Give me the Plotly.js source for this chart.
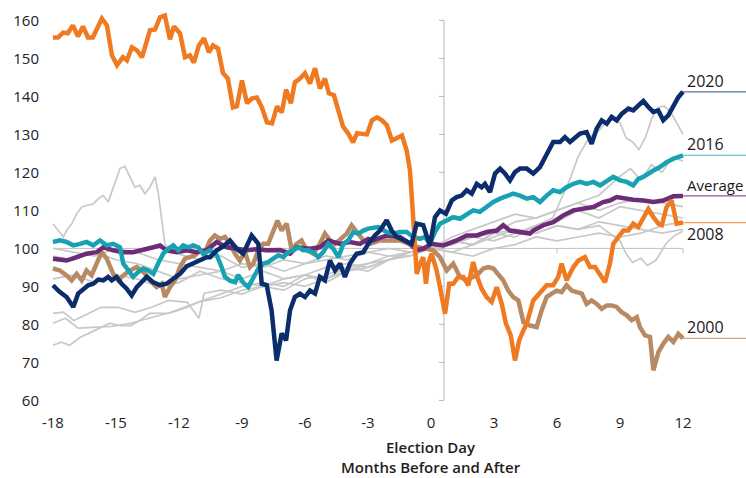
<!DOCTYPE html>
<html><head><meta charset="utf-8">
<script src="https://cdn.plot.ly/plotly-3.0.1.min.js"></script>
<style>html,body{margin:0;padding:0;background:#fff}#chart{width:746px;height:478px}</style>
</head><body><div id="chart"></div>
<script>
// ---- tick labels ----
const xTickVals = [-18,-15,-12,-9,-6,-3,0,3,6,9,12];
const xTickText = ['-18','-15','-12','-9','-6','-3','0','3','6','9','12'];
const yTickVals = [60,70,80,90,100,110,120,130,140,150,160];

// ---- highlighted series (months vs election day, index = 100 on election day) ----
const y2008_x = [-18.0,-17.76,-17.52,-17.29,-17.05,-16.81,-16.57,-16.33,-16.1,-15.67,-15.43,-15.19,-14.95,-14.67,-14.48,-14.24,-14.0,-13.76,-13.38,-13.14,-12.9,-12.67,-12.43,-12.24,-11.95,-11.71,-11.48,-11.29,-11.05,-10.81,-10.57,-10.38,-10.14,-9.9,-9.67,-9.43,-9.24,-9.0,-8.76,-8.52,-8.29,-8.05,-7.81,-7.57,-7.33,-7.1,-6.9,-6.67,-6.48,-6.24,-6.0,-5.76,-5.52,-5.29,-5.05,-4.86,-4.62,-4.43,-4.19,-3.95,-3.71,-3.52,-3.24,-3.05,-2.81,-2.57,-2.33,-2.1,-1.86,-1.62,-1.38,-1.16,-1.0,-0.87,-0.76,-0.68,-0.52,-0.37,-0.24,-0.13,0.03,0.27,0.43,0.67,0.87,1.06,1.3,1.54,1.78,2.01,2.2,2.41,2.65,2.89,3.13,3.37,3.57,3.8,4.0,4.2,4.4,4.56,4.87,5.19,5.51,5.82,6.06,6.22,6.46,6.78,7.02,7.33,7.57,7.81,8.05,8.29,8.52,8.68,8.92,9.16,9.4,9.63,9.87,10.11,10.35,10.59,10.83,10.99,11.22,11.46,11.7,12.0];
const y2008_v = [155.5,155.5,156.8,156.6,158.7,155.8,158.4,155.5,155.5,160.5,158.7,150.8,148.2,150.3,149.5,152.9,152.1,150.3,157.4,157.6,160.8,161.3,155.0,158.4,156.6,150.3,150.8,148.9,153.4,155.3,151.6,153.4,152.6,146.1,144.7,137.1,137.4,144.2,138.2,139.5,139.7,137.1,133.2,132.9,137.4,135.8,141.8,138.2,143.7,144.7,146.1,143.4,147.4,142.1,144.7,140.8,140.3,136.3,132.1,130.3,127.9,130.3,130.0,130.0,133.7,134.5,133.7,132.4,128.4,129.2,129.7,125.8,120.5,110.0,99.5,93.3,96.0,97.7,90.7,96.0,98.6,94.2,89.8,82.8,90.7,90.7,92.5,92.5,90.3,96.4,92.5,89.4,87.2,85.9,89.8,85.4,80.2,77.1,70.5,75.8,78.4,80.2,86.3,88.5,90.3,90.3,92.5,96.0,91.6,95.1,96.8,97.7,95.1,95.1,93.3,91.1,96.0,101.2,103.0,104.7,104.7,106.5,105.6,108.2,110.4,108.2,106.5,106.1,110.9,112.6,106.5,106.8];

const y2020_x = [-18.0,-17.67,-17.35,-17.03,-16.8,-16.56,-16.32,-16.08,-15.84,-15.6,-15.37,-15.2,-14.97,-14.73,-14.49,-14.25,-14.01,-13.78,-13.54,-13.22,-12.9,-12.59,-12.27,-11.95,-11.63,-11.32,-11.0,-10.68,-10.52,-10.2,-9.89,-9.57,-9.25,-8.94,-8.54,-8.22,-8.06,-7.82,-7.59,-7.35,-7.11,-6.9,-6.71,-6.48,-6.24,-6.0,-5.76,-5.52,-5.29,-5.05,-4.81,-4.57,-4.33,-4.1,-3.86,-3.54,-3.22,-2.99,-2.67,-2.43,-2.11,-1.87,-1.63,-1.4,-1.16,-0.92,-0.68,-0.37,-0.13,-0.05,0.19,0.43,0.71,0.99,1.22,1.46,1.7,1.94,2.18,2.41,2.57,2.81,3.05,3.29,3.52,3.76,4.0,4.24,4.56,4.87,5.19,5.51,5.82,6.14,6.38,6.62,6.86,7.1,7.41,7.65,7.89,8.13,8.37,8.6,8.84,9.08,9.4,9.63,9.87,10.11,10.35,10.59,10.82,11.06,11.3,11.54,11.78,12.0];
const y2020_v = [90.3,88.5,87.2,84.6,88.1,89.4,90.3,90.7,91.8,91.6,92.5,91.6,92.5,90.7,89.4,87.6,89.8,91.1,92.5,91.1,90.3,90.7,92.0,93.3,95.3,96.0,96.8,97.7,97.7,99.5,100.5,102.1,99.9,98.6,103.4,101.2,90.7,90.3,83.7,70.5,77.6,75.8,83.7,87.2,88.1,87.2,88.9,88.1,92.5,91.6,96.8,94.2,96.0,92.5,96.0,98.6,99.0,101.2,103.4,104.7,107.4,104.7,103.0,102.5,101.7,101.2,106.5,106.1,102.1,100.8,108.2,110.0,109.1,112.6,113.5,113.9,115.3,114.4,117.0,116.1,117.0,114.8,119.7,121.0,119.7,117.9,120.1,121.0,121.0,119.7,121.4,124.9,128.0,128.0,129.3,128.0,129.3,130.2,130.6,127.5,131.5,133.7,132.8,134.6,133.7,135.4,136.8,136.3,137.6,138.8,137.2,135.9,136.3,133.7,135.0,137.6,139.8,141.2];

const y2016_x = [-18.0,-17.67,-17.35,-17.03,-16.71,-16.4,-16.08,-15.76,-15.44,-15.13,-14.81,-14.65,-14.41,-14.18,-13.94,-13.7,-13.46,-13.22,-12.99,-12.75,-12.51,-12.27,-12.03,-11.8,-11.56,-11.32,-11.08,-10.84,-10.52,-10.2,-9.97,-9.81,-9.57,-9.33,-9.18,-8.94,-8.7,-8.46,-8.22,-7.99,-7.75,-7.51,-7.27,-7.03,-6.8,-6.56,-6.32,-6.08,-5.84,-5.6,-5.37,-5.13,-4.89,-4.65,-4.41,-4.17,-3.94,-3.7,-3.46,-3.22,-2.99,-2.51,-2.11,-1.8,-1.48,-1.16,-0.84,-0.52,-0.29,-0.05,0.19,0.43,0.75,1.06,1.38,1.7,2.01,2.33,2.65,2.97,3.29,3.6,3.92,4.24,4.56,4.87,5.19,5.51,5.82,6.14,6.46,6.78,7.1,7.41,7.73,8.05,8.37,8.68,9.0,9.32,9.63,9.87,10.11,10.35,10.59,10.9,11.22,11.54,12.0];
const y2016_v = [101.7,102.1,101.7,100.8,101.2,101.7,100.8,102.1,100.8,101.2,100.3,96.0,94.2,92.5,93.8,94.7,94.2,93.3,96.0,98.6,99.9,100.8,99.5,100.8,100.3,100.8,100.3,98.5,99.5,98.2,95.1,92.5,91.5,91.1,93.0,91.0,89.8,92.5,94.7,96.0,96.4,97.3,98.2,97.7,99.0,99.5,100.3,99.5,99.5,99.0,97.7,99.0,101.2,99.9,97.7,101.2,102.1,104.3,103.9,104.7,105.2,105.6,104.3,103.9,104.3,104.3,103.0,102.5,103.0,101.2,104.3,106.5,107.4,108.2,107.8,109.1,110.0,109.6,110.9,112.2,113.1,113.9,114.4,113.9,113.1,113.5,112.2,113.9,115.3,114.8,116.1,117.0,117.5,117.0,117.5,116.6,117.9,118.8,117.9,117.5,116.6,118.3,118.8,119.7,120.5,121.4,122.7,123.6,124.5];

const avg_x = [-18.0,-17.35,-16.87,-16.4,-15.92,-15.6,-15.13,-14.65,-14.18,-13.7,-13.22,-12.9,-12.59,-12.11,-11.63,-11.16,-10.68,-10.2,-9.73,-9.25,-8.78,-8.3,-7.82,-7.19,-6.71,-6.4,-5.76,-5.29,-4.89,-4.33,-3.86,-3.38,-2.99,-2.75,-2.11,-1.48,-1.0,-0.68,-0.37,0.03,0.59,1.22,1.7,2.18,2.65,3.13,3.44,3.76,4.24,4.71,4.87,5.35,5.82,6.3,6.78,7.25,7.73,8.2,8.52,8.84,9.16,9.63,10.11,10.59,11.06,11.54,12.0];
const avg_v = [97.3,96.8,97.7,98.6,99.0,100.3,99.5,99.0,99.0,99.5,100.3,100.8,99.5,99.0,99.5,99.0,99.5,101.7,100.3,99.9,99.5,99.8,99.5,99.6,98.6,100.3,99.9,100.3,102.1,101.2,101.7,101.2,102.5,102.1,103.4,103.0,101.2,99.5,99.9,101.2,100.8,102.1,103.4,103.4,104.3,104.7,106.1,104.7,104.3,103.9,104.7,106.1,106.9,108.7,110.0,110.4,110.9,112.2,112.6,113.5,113.1,112.8,112.6,112.2,112.6,113.7,113.8];

const y2000_x = [-18.0,-17.67,-17.35,-17.11,-16.87,-16.63,-16.4,-16.16,-15.92,-15.68,-15.44,-15.13,-14.89,-14.65,-14.33,-14.01,-13.78,-13.54,-13.3,-13.06,-12.82,-12.67,-12.43,-12.19,-11.95,-11.71,-11.48,-11.24,-11.0,-10.76,-10.52,-10.29,-10.05,-9.81,-9.57,-9.33,-9.1,-8.86,-8.62,-8.46,-8.22,-7.99,-7.75,-7.51,-7.31,-7.11,-6.87,-6.63,-6.4,-6.16,-5.92,-5.6,-5.29,-5.05,-4.81,-4.57,-4.33,-4.01,-3.78,-3.54,-3.22,-2.9,-2.43,-1.48,-1.0,-0.6,-0.2,0.11,0.43,0.75,1.06,1.38,1.7,2.01,2.25,2.49,2.73,2.97,3.2,3.44,3.68,3.92,4.16,4.4,4.71,5.03,5.27,5.51,5.75,5.99,6.22,6.46,6.7,6.94,7.18,7.41,7.65,7.89,8.13,8.37,8.6,8.84,9.08,9.32,9.56,9.8,9.95,10.19,10.43,10.59,10.83,11.06,11.3,11.54,11.78,12.0];
const y2000_v = [94.7,94.2,92.9,91.6,93.3,91.6,94.2,92.9,96.0,99.0,97.3,93.3,91.6,92.9,94.2,95.1,94.2,92.9,91.1,89.8,90.7,87.2,89.8,91.6,95.1,97.3,97.7,98.2,99.5,99.0,102.1,103.4,102.5,103.0,101.2,98.6,96.8,99.0,95.1,96.0,99.5,101.2,101.2,104.7,107.3,104.7,106.5,99.5,101.2,102.1,99.5,98.6,101.2,103.9,102.1,101.2,102.5,103.9,106.1,104.3,102.1,101.2,102.1,102.1,101.2,100.3,99.9,99.5,97.7,94.2,96.0,92.5,91.6,92.5,93.3,94.7,95.1,94.7,93.3,91.6,88.9,87.2,86.3,80.6,79.7,79.3,83.7,87.2,88.1,88.9,88.5,90.3,88.9,88.5,88.1,85.4,86.3,85.4,84.1,85.0,85.0,84.6,83.2,82.4,81.1,81.9,79.3,77.1,76.7,67.9,72.7,74.9,76.7,75.4,77.5,76.3];

// ---- other election cycles (grey) ----
const grayA_x = [-18,-17.5,-17.35,-17.1,-16.87,-16.63,-16.4,-16.08,-15.84,-15.6,-15.37,-15.13,-14.81,-14.57,-14.33,-14.1,-13.86,-13.62,-13.38,-13.14,-12.98,-12.82,-12.67,-12.43,-12,-11,-10,-9,-8,-7,-6,-5,-4,-3,-2,-1,0,1,2,3,4,5,6,7,8,9,9.5,10,10.5,11,11.5,12];
const grayA_v = [106.5,103,104.7,106.5,109.1,110.9,111.3,111.7,113.1,113.9,112.2,116.1,121,121.6,118.8,116.1,116.6,114.4,116.1,118.8,114.4,108.2,101.2,99.5,98.5,97,98,95,96,94,96,97,98,99,98,99,100,101,103,104,107,108,110,112,114,119,121,118,122,120,124,123];
const grayB_x = [-18,-17,-16,-15,-14,-13,-12,-11,-10,-9,-8,-7,-6,-5,-4,-3,-2,-1,0,1,2,3,4,5,5.8,6.2,6.6,7,7.4,7.7,8,8.3,8.7,9,9.3,9.6,9.9,10.2,10.5,10.8,11.1,11.4,11.7,12];
const grayB_v = [98,97,99,97,96,94,92,93,94,92,94,92,93,95,96,95,97,99,100,101,103,102,104,106,108,113,118,124,128,130,131,133,134,133,129,128,126,129,134,137,137.5,136,133,130];
const grayC_x = [-18,-17,-16,-15,-14,-13,-12,-11,-10,-9,-8,-7,-6,-5,-4,-3,-2,-1,0,1,2,3,4,5,6,7,8,9,10,11,12];
const grayC_v = [92,93,91,93,92,90,91,94,92,91,90,92,93,91,94,96,98,98,100,99,101,104,103,106,107,110,108,111,110,109,108];
const grayD_x = [-18,-17.5,-17,-16.3,-15.7,-14.9,-14.1,-13.3,-12.5,-11.6,-11.05,-10.8,-10,-9,-8,-7,-6,-5,-4,-3,-2,-1,0,1,2,3,4,5,6,7,8,9,10,11,12];
const grayD_v = [82.9,83.2,81,82.9,84.5,84.5,83.2,84.5,86.3,85.8,81.6,88.2,89,88,90,91,90,92,94,95,97,99,100,103,105,107,109,108,110,112,110,112,113,112,111];
const grayE_x = [-18,-17.4,-16.8,-15.8,-15.2,-14.3,-13.5,-12.9,-12.3,-11.6,-11,-10,-9,-8,-7,-6,-5,-4,-3,-2,-1,0,1,2,3,4,5,6,7,8,9,10,11,12];
const grayE_v = [80.3,81.6,79,79.2,79.5,80.3,81.6,82.4,83.2,84.5,86,87,89,90,89,92,93,95,94,97,99,100,102,101,103,105,104,106,105,107,106,105,104,105];
const grayF_x = [-18,-17.6,-17.2,-16.7,-16.2,-15.8,-15.3,-14.8,-14.3,-13.85,-13.4,-12.5,-12,-11,-10,-9,-8,-7,-6,-5,-4,-3,-2,-1,0,1,2,3,4,5,6,7,8,9,10,11,12];
const grayF_v = [74.5,75.3,74.5,76.6,77.9,78.9,80.3,79.7,79.7,81.1,82.9,83,84,86,88,90,91,90,93,92,95,96,97,98,100,99,98,100,101,103,102,103,104,103,104,106,107];
const grayG_x = [-18,-17,-16,-15,-14,-13,-12,-11,-10,-9,-8,-7,-6,-5,-4,-3,-2,-1,0,1,2,3,4,5,6,7,8,9,9.3,9.6,10,10.3,10.7,11.2,11.6,12];
const grayG_v = [100,99,98,100,99,97,96,95,94,96,95,97,96,98,97,99,100,99,100,102,101,104,105,104,106,105,106,102,98.5,96.3,97.4,95.5,96.8,101.3,103.4,104.5];

const COLORS = {g:'#c8c8c8', y2000:'#b88a64', avg:'#6c2c78', y2016:'#17a2b4', y2008:'#f07a22', y2020:'#0b2d6b'};

const traces = [];
[[grayA_x,grayA_v],[grayB_x,grayB_v],[grayC_x,grayC_v],[grayD_x,grayD_v],[grayE_x,grayE_v],[grayF_x,grayF_v],[grayG_x,grayG_v]].forEach(p=>{
  traces.push({x:p[0], y:p[1], mode:'lines', line:{color:COLORS.g, width:1.7}, hoverinfo:'skip', showlegend:false});
});

const labeled = [
  {name:'2000', x:y2000_x, y:y2000_v, color:COLORS.y2000, lead:'#c8a88c', pos:'above', fs:16},
  {name:'Average', x:avg_x, y:avg_v, color:COLORS.avg, lead:'#8a5a92', pos:'above', fs:15},
  {name:'2016', x:y2016_x, y:y2016_v, color:COLORS.y2016, lead:'#6cc6d2', pos:'above', fs:16},
  {name:'2008', x:y2008_x, y:y2008_v, color:COLORS.y2008, lead:'#f39a55', pos:'below', fs:16},
  {name:'2020', x:y2020_x, y:y2020_v, color:COLORS.y2020, lead:'#5b73a3', pos:'above', fs:16}
];
const annotations = [];
labeled.forEach(s=>{
  traces.push({x:s.x, y:s.y, mode:'lines', name:s.name, line:{color:s.color, width:4.5}, showlegend:false});
  const lx = s.x[s.x.length-1], ly = s.y[s.y.length-1];
  traces.push({x:[lx, 16], y:[ly, ly], mode:'lines', line:{color:s.lead, width:1.3}, hoverinfo:'skip', showlegend:false});
  annotations.push({x:lx, y:ly, xref:'x', yref:'y', text:s.name, showarrow:false, xanchor:'left', yanchor:'middle',
    xshift:2, yshift: s.pos==='above'?11:-11, font:{family:'Open Sans', size:s.fs, color:'#1a1a1a'}});
});
const titleFont = {family:'Open Sans', size:15, color:'#1e1e1e', weight:600};
annotations.push({x:0, y:0, xref:'x', yref:'paper', yanchor:'top', yshift:-28, showarrow:false, borderpad:0,
  text:'Election Day', font:titleFont});
annotations.push({x:0, y:0, xref:'x', yref:'paper', yanchor:'bottom', yshift:-70, showarrow:false, borderpad:0,
  text:'Months Before and After', font:titleFont});

const shapes = [];
// horizontal reference line at 100
shapes.push({type:'line', xref:'x', yref:'y', x0:-18, x1:12, y0:100, y1:100, line:{color:'#c0c0c0', width:1}, layer:'below'});
[6,12].forEach(v=>shapes.push({type:'line', xref:'x', yref:'y', xsizemode:'scaled', ysizemode:'pixel', yanchor:100, x0:v, x1:v, y0:-5, y1:0, line:{color:'#c0c0c0', width:1}, layer:'below'}));
// vertical election day axis
const axX = 0.62;
shapes.push({type:'line', xref:'x', yref:'y', x0:axX, x1:axX, y0:60, y1:160, line:{color:'#b8b8b8', width:1}, layer:'below'});
yTickVals.forEach(v=>shapes.push({type:'line', xref:'x', yref:'y', xsizemode:'pixel', xanchor:axX, x0:-5, x1:0, y0:v, y1:v, line:{color:'#b8b8b8', width:1}, layer:'below'}));

const layout = {
  width:746, height:478,
  margin:{l:50, r:0, t:9, b:70},
  paper_bgcolor:'#fff', plot_bgcolor:'#fff',
  showlegend:false,
  font:{family:'Open Sans', size:15, color:'#222'},
  xaxis:{range:[-18.14,15.0], tickvals:xTickVals, ticktext:xTickText, showgrid:false, zeroline:false, showline:false, ticks:'', ticklabelstandoff:4, tickfont:{size:15, color:'#222'}},
  yaxis:{range:[58,163], tickvals:yTickVals, showgrid:false, zeroline:false, showline:false, ticks:'', ticklabelstandoff:10, tickfont:{size:15, color:'#222'}},
  shapes:shapes,
  annotations:annotations
};
Plotly.newPlot('chart', traces, layout, {displayModeBar:false, staticPlot:true});
</script>
</body></html>
